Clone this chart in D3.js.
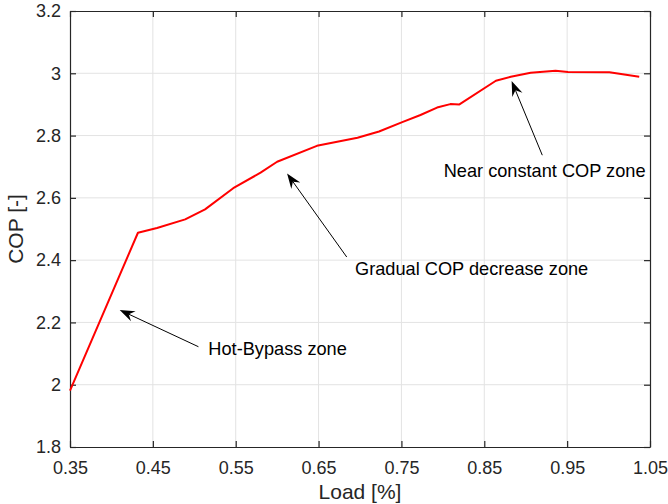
<!DOCTYPE html>
<html>
<head>
<meta charset="utf-8">
<script src="https://cdn.jsdelivr.net/npm/d3@7"></script>
<style>
  html, body { margin: 0; padding: 0; background: #fff; }
  svg { display: block; font-family: "Liberation Sans", Arial, Helvetica, sans-serif; }
</style>
</head>
<body>
<svg id="chart" width="668" height="504"></svg>
<script>
// Part-load performance curve
const loadValues = [0.35, 0.432, 0.455, 0.489, 0.513, 0.547, 0.580, 0.600, 0.648, 0.697, 0.723,
                    0.751, 0.773, 0.793, 0.809, 0.820, 0.864, 0.882, 0.906, 0.936, 0.951, 1.001, 1.037];
const copValues  = [1.981, 2.488, 2.503, 2.531, 2.563, 2.631, 2.681, 2.716, 2.767, 2.793, 2.813,
                    2.843, 2.866, 2.890, 2.901, 2.900, 2.976, 2.989, 3.002, 3.008, 3.004, 3.003, 2.989];

const xTicks = [0.35, 0.45, 0.55, 0.65, 0.75, 0.85, 0.95, 1.05];
const yTicks = [1.8, 2.0, 2.2, 2.4, 2.6, 2.8, 3.0, 3.2];

// Annotations: label, arrow tip (data units), arrow tail & label anchor (data units)
const notes = [
  { text: "Hot-Bypass zone",            tip: [0.410, 2.240], tail: [0.505, 2.122], label: [0.517, 2.095] },
  { text: "Gradual COP decrease zone",  tip: [0.612, 2.678], tail: [0.684, 2.410], label: [0.694, 2.352] },
  { text: "Near constant COP zone",     tip: [0.883, 2.975], tail: [0.920, 2.737], label: [0.801, 2.666] }
];

const W = 668, H = 504;
const m = { left: 70, top: 11, right: 18, bottom: 57 };
const svg = d3.select("#chart");

const x = d3.scaleLinear().domain([0.35, 1.05]).range([m.left, W - m.right]);
const y = d3.scaleLinear().domain([1.8, 3.2]).range([H - m.bottom, m.top]);

const axisColor = "#262626";
const gridColor = "#e3e3e3";
const fs = 18;

// grid
const grid = svg.append("g");
grid.selectAll("line.gx").data(xTicks.slice(1, -1)).join("line")
  .attr("x1", d => x(d)).attr("x2", d => x(d))
  .attr("y1", y(1.8)).attr("y2", y(3.2))
  .attr("stroke", gridColor).attr("stroke-width", 1);
grid.selectAll("line.gy").data(yTicks.slice(1, -1)).join("line")
  .attr("y1", d => y(d)).attr("y2", d => y(d))
  .attr("x1", x(0.35)).attr("x2", x(1.05))
  .attr("stroke", gridColor).attr("stroke-width", 1);

// axes with inward ticks on all four sides
function styleAxis(g) {
  g.select(".domain").attr("stroke", axisColor).attr("stroke-width", 1.2);
  g.selectAll(".tick line").attr("stroke", axisColor).attr("stroke-width", 1.2);
  g.selectAll(".tick text").attr("fill", axisColor).attr("font-size", fs)
    .attr("font-family", "Liberation Sans, Arial, sans-serif");
}
const fmtX = d3.format(".2f");
const fmtY = d => (Math.abs(d - Math.round(d)) < 1e-9 ? d3.format("d")(d) : d3.format(".1f")(d));

svg.append("g").attr("transform", `translate(0,${y(1.8)})`)
  .call(d3.axisBottom(x).tickValues(xTicks).tickFormat(fmtX).tickSizeInner(-6).tickSizeOuter(0).tickPadding(14))
  .call(styleAxis);
svg.append("g").attr("transform", `translate(0,${y(3.2)})`)
  .call(d3.axisTop(x).tickValues(xTicks).tickFormat("").tickSizeInner(-6).tickSizeOuter(0))
  .call(styleAxis);
svg.append("g").attr("transform", `translate(${x(0.35)},0)`)
  .call(d3.axisLeft(y).tickValues(yTicks).tickFormat(fmtY).tickSizeInner(-6).tickSizeOuter(0).tickPadding(9))
  .call(styleAxis);
svg.append("g").attr("transform", `translate(${x(1.05)},0)`)
  .call(d3.axisRight(y).tickValues(yTicks).tickFormat("").tickSizeInner(-6).tickSizeOuter(0))
  .call(styleAxis);

// axis titles
svg.append("text").attr("x", (x(0.35) + x(1.05)) / 2).attr("y", 499)
  .attr("text-anchor", "middle").attr("font-size", 21).attr("fill", axisColor).text("Load [%]");
svg.append("text").attr("transform", `translate(23,${(y(1.8) + y(3.2)) / 2}) rotate(-90)`)
  .attr("text-anchor", "middle").attr("font-size", 21).attr("fill", axisColor).text("COP [-]");

// curve
const pts = loadValues.map((v, i) => [v, copValues[i]]);
svg.append("path").datum(pts)
  .attr("d", d3.line().x(d => x(d[0])).y(d => y(d[1])))
  .attr("fill", "none").attr("stroke", "#ff0000").attr("stroke-width", 2)
  .attr("stroke-linejoin", "round");

// annotation arrows
const ann = svg.append("g");
notes.forEach(n => {
  const tx = x(n.tip[0]), ty = y(n.tip[1]);
  const sx = x(n.tail[0]), sy = y(n.tail[1]);
  const ang = Math.atan2(sy - ty, sx - tx);
  const L = 15, hw = 5.5, notch = 10;
  const ux = Math.cos(ang), uy = Math.sin(ang), px = -uy, py = ux;
  ann.append("line")
    .attr("x1", sx).attr("y1", sy)
    .attr("x2", tx + ux * notch).attr("y2", ty + uy * notch)
    .attr("stroke", "#000").attr("stroke-width", 1);
  const head = [
    [tx, ty],
    [tx + ux * L + px * hw, ty + uy * L + py * hw],
    [tx + ux * notch, ty + uy * notch],
    [tx + ux * L - px * hw, ty + uy * L - py * hw]
  ];
  ann.append("path").attr("d", "M" + head.map(p => p.join(",")).join("L") + "Z").attr("fill", "#000");
  ann.append("text").attr("x", x(n.label[0])).attr("y", y(n.label[1]))
    .attr("font-size", 18.2).attr("fill", "#000").text(n.text);
});
</script>
</body>
</html>
